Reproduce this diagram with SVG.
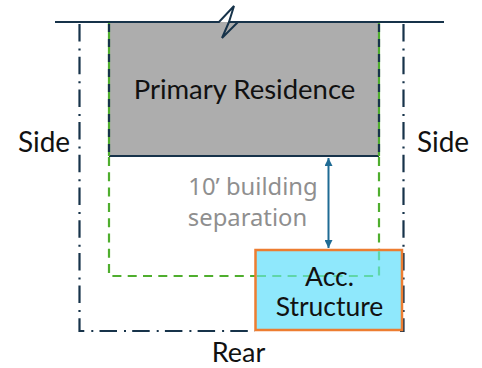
<svg xmlns="http://www.w3.org/2000/svg" width="482" height="368" viewBox="0 0 482 368">
<defs>
<marker id="ah" markerWidth="9" markerHeight="8" refX="8" refY="4" orient="auto-start-reverse" markerUnits="userSpaceOnUse"><path d="M0,0L8,4L0,8Z" fill="#1f6b94"/></marker>
</defs>
<style>
.t{font-family:"Lato","Noto Sans",sans-serif;fill:#111;text-anchor:middle}
.g{font-family:"Noto Sans",sans-serif;fill:#8f8f8f;text-anchor:middle;font-size:23.8px}
.dd{fill:none;stroke:#17334a;stroke-width:2.2;stroke-dasharray:17.5 7 2 6.2}
.gd{fill:none;stroke:#4fae2e;stroke-width:2.2;stroke-dasharray:9 6.3}
</style>
<rect width="482" height="368" fill="#fff"/>
<g id="setback-lines">
<path class="dd" d="M79.5,24V331H255"/>
<path class="dd" d="M403.5,24V331H400"/>
</g>
<g id="primary-residence">
<rect x="109" y="22" width="270" height="134" fill="#adadad"/>
<path d="M109,156H379" stroke="#17334a" stroke-width="2" fill="none"/>
<path d="M109,22V156M379,22V156" fill="none" stroke="#4fae2e" stroke-width="2.2"/>
<path d="M109,24V156M379,24V156" fill="none" stroke="#17334a" stroke-width="2.2" stroke-dasharray="8 7"/>
<path class="gd" d="M109,157V276H256"/>
<path class="gd" d="M379,157V250"/>
<text class="t" x="244.500" y="98.500" font-size="27.500">Primary Residence</text>
</g>
<g id="property-line">
<path d="M55,22H219L234,6L229,22H238L222,38L229,22M238,22H444" fill="none" stroke="#17334a" stroke-width="2"/>
</g>
<g id="connectors">
<path d="M328.500,158V248" stroke="#1f6b94" stroke-width="2" marker-start="url(#ah)" marker-end="url(#ah)" fill="none"/>
</g>
<g id="acc-structure">
<rect x="255.500" y="250" width="146.500" height="80" fill="#8fe8fc" stroke="#ed7d31" stroke-width="2.500"/>
<path d="M257,276H379V251" fill="none" stroke="#5fd6a8" stroke-width="2.200" stroke-dasharray="9 6.300"/>
<text class="t" x="329.500" y="285.500" font-size="26.500">Acc.</text>
<text class="t" x="329.500" y="315.500" font-size="26.500">Structure</text>
</g>
<g id="labels">
<text class="t" x="44" y="152" font-size="28">Side</text>
<text class="t" x="443" y="152" font-size="28">Side</text>
<text class="t" x="238.500" y="362" font-size="27">Rear</text>
<text class="g" x="253" y="195">10’ building</text>
<text class="g" x="247.500" y="226">separation</text>
</g>
</svg>
